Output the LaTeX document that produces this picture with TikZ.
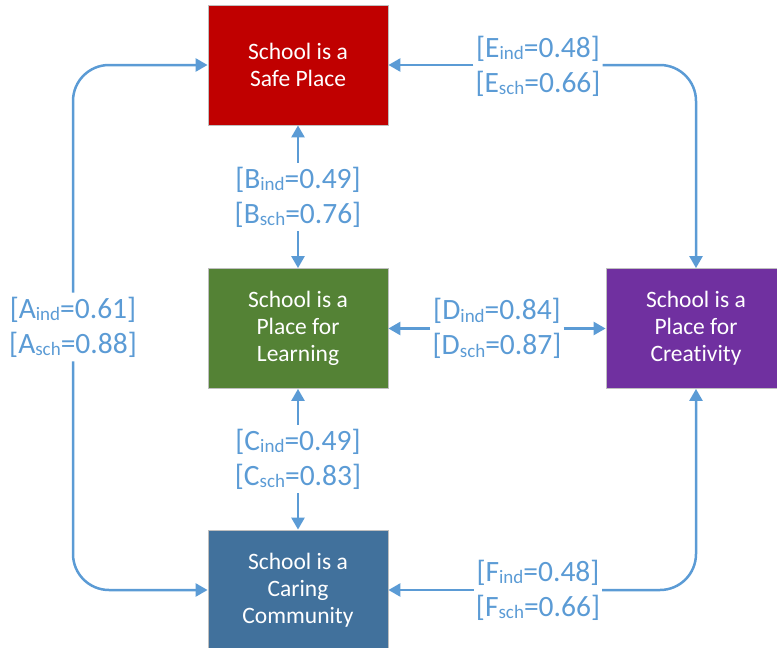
\documentclass[tikz,border=0pt]{standalone}
\usepackage{fontspec}
\setmainfont{Carlito}[Ligatures=NoCommon]
\usetikzlibrary{arrows.meta}

\definecolor{safered}{HTML}{C00000}
\definecolor{learngreen}{HTML}{548235}
\definecolor{caringblue}{HTML}{41719C}
\definecolor{creatpurple}{HTML}{7030A0}
\definecolor{linkblue}{HTML}{5B9BD5}

% small lowered index used in the path coefficients
\newcommand\idx[1]{\raisebox{-0.08em}{\fontsize{19}{19}\selectfont #1}}
% two-line coefficient label: individual and school level
\newcommand\coef[3]{[#1\idx{ind}=#2]\\\relax[#1\idx{sch}=#3]}

\tikzset{
  areabox/.style={draw=black!25, line width=0.8pt, minimum width=180pt,
    minimum height=120pt, text=white, align=center,
    font=\fontsize{23.5}{27}\selectfont},
  coefbox/.style={text=linkblue, align=center, inner xsep=2pt, inner ysep=4pt,
    font=\fontsize{29.5}{35}\selectfont},
  link/.style={draw=linkblue, line width=2.5pt,
    -{Triangle[length=12pt,width=13pt]}}
}

\begin{document}
\begin{tikzpicture}[x=1pt, y=-1pt]
\useasboundingbox (0,0) rectangle (777,648);

% the four areas of school life
\node[areabox, fill=safered]     (safe)   at (298,65)    {School is a\\Safe Place};
\node[areabox, fill=learngreen]  (learn)  at (298,328.5) {School is a\\Place for\\Learning};
\node[areabox, fill=caringblue]  (caring) at (298,590)   {School is a\\Caring\\Community};
\node[areabox, fill=creatpurple] (creat)  at (696,328.5) {School is a\\Place for\\Creativity};

% correlation labels
\node[coefbox] (A) at (73,327)  {\coef{A}{0.61}{0.88}};
\node[coefbox] (B) at (298,197) {\coef{B}{0.49}{0.76}};
\node[coefbox] (C) at (298,459) {\coef{C}{0.49}{0.83}};
\node[coefbox] (D) at (497,328.5) {\coef{D}{0.84}{0.87}};
\node[coefbox] (E) at (538,66)  {\coef{E}{0.48}{0.66}};
\node[coefbox] (F) at (538,590) {\coef{F}{0.48}{0.66}};

% connectors
\draw[link, rounded corners=36pt] (A.north) |- (safe.west);
\draw[link, rounded corners=36pt] (A.south) |- (caring.west);
\draw[link] (B) -- (safe);
\draw[link] (B) -- (learn);
\draw[link] (C) -- (learn);
\draw[link] (C) -- (caring);
\draw[link] (D) -- (learn);
\draw[link] (D) -- (creat);
\draw[link] (E.west |- safe.east) -- (safe.east);
\draw[link, rounded corners=36pt] (E.east |- safe.east) -| (creat.north);
\draw[link] (F.west |- caring.east) -- (caring.east);
\draw[link, rounded corners=36pt] (F.east |- caring.east) -| (creat.south);
\end{tikzpicture}
\end{document}
